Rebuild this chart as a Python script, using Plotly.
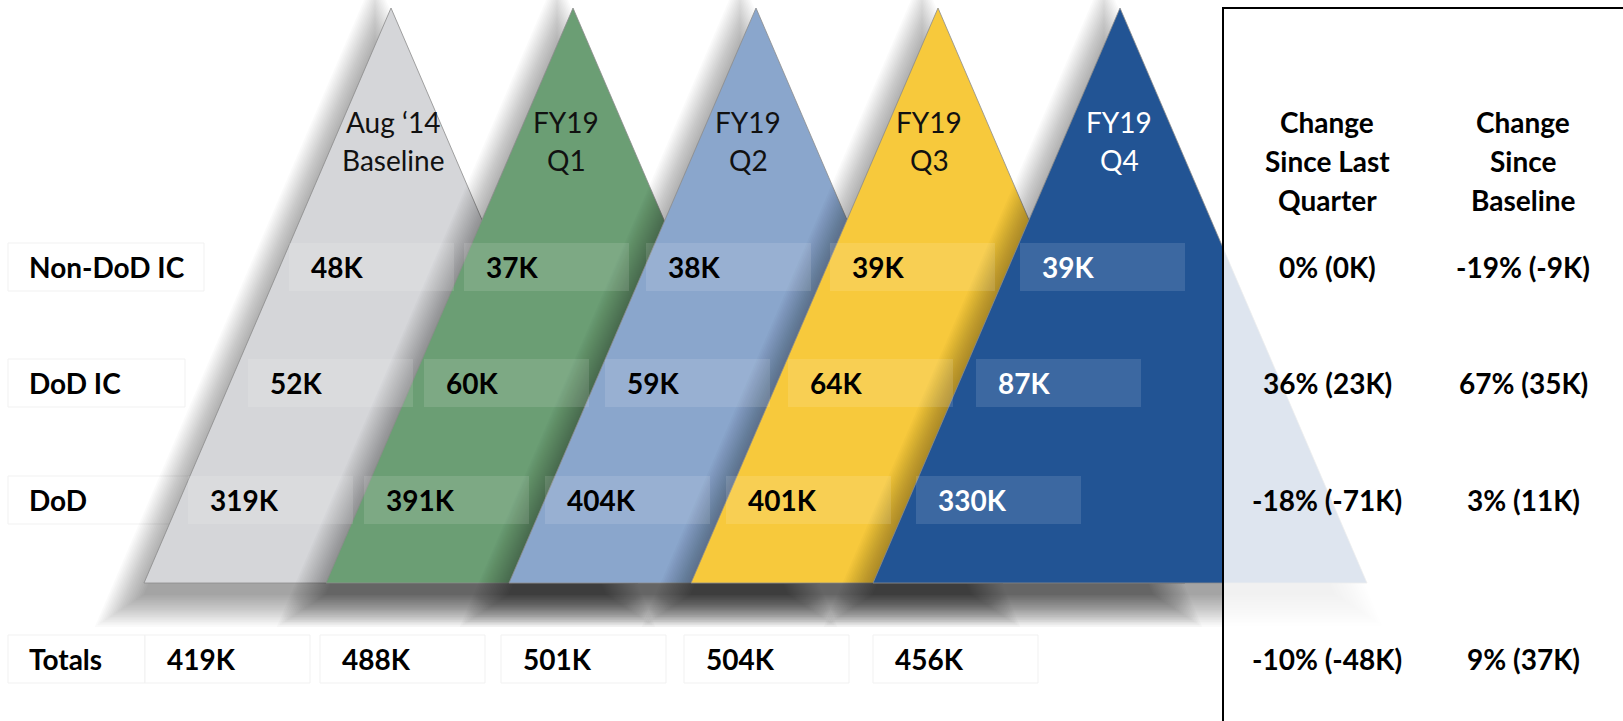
import math
import plotly.graph_objects as go

# ---------------- data ----------------
period_line1 = ["Aug \u201814", "FY19", "FY19", "FY19", "FY19"]
period_line2 = ["Baseline", "Q1", "Q2", "Q3", "Q4"]
row_labels = ["Non-DoD IC", "DoD IC", "DoD", "Totals"]
non_dod_ic = [48, 37, 38, 39, 39]
dod_ic = [52, 60, 59, 64, 87]
dod = [319, 391, 404, 401, 330]
totals = [419, 488, 501, 504, 456]
change_header_last_quarter = ["Change", "Since Last", "Quarter"]
change_header_baseline = ["Change", "Since", "Baseline"]
change_last_quarter = ["0% (0K)", "36% (23K)", "-18% (-71K)", "-10% (-48K)"]
change_baseline = ["-19% (-9K)", "67% (35K)", "3% (11K)", "9% (37K)"]

# ---------------- styles / layout ----------------
W, H = 1623, 721
tri_colors = ["#d5d6d9", "#6b9e74", "#8aa6cc", "#f7c93c", "#225494"]
header_colors = ["#111111", "#111111", "#111111", "#111111", "#ffffff"]
value_colors = ["#000000", "#000000", "#000000", "#000000", "#ffffff"]
FONT = "Lato"
FS = 28

APEX_X = [391, 573, 756, 938, 1120]
APEX_Y, BASE_Y, HALF = 8, 583, 247
TAN = HALF / (BASE_Y - APEX_Y)
SIN = math.sin(math.atan(TAN))

ROW_Y = [267, 383, 500, 659]
TEXT_X = [
    [309, 484, 666, 850, 1040],
    [268, 444, 625, 808, 996],
    [208, 384, 565, 746, 936],
    [165, 340, 521, 704, 893],
]
BOX_W, BOX_H, BOX_PAD = 165, 48, 20
LABEL_X = 27
LABEL_BOX_R = [204, 185, 207, 145]
HEADER_X = [393, 566, 748, 929, 1119]
HEADER_Y = [122, 160]
PANEL_X, PANEL_Y = 1223, 8
CHG_X = [1327, 1523]
CHG_HEAD_Y = [122, 161, 200]

SH_DX, SH_DY = -16, 22
SH_N = 20
SH_R = [-10 + 32 * k / (SH_N - 1) for k in range(SH_N)]
SH_A = 0.02


def tri_path(ax, r=0.0, dx=0.0, dy=0.0):
    top = APEX_Y - r / SIN + dy
    bot = BASE_Y + r + dy
    hw = (bot - top) * TAN
    x = ax + dx
    return f"M {x:.1f},{top:.1f} L {x + hw:.1f},{bot:.1f} L {x - hw:.1f},{bot:.1f} Z"


fig = go.Figure()
fig.add_trace(go.Scatter(x=[0, W], y=[0, H], mode="markers",
                         marker=dict(opacity=0), hoverinfo="skip", showlegend=False))

shapes = []
series = [non_dod_ic, dod_ic, dod, totals]

# row label boxes (behind the triangles)
for r_i, ry in enumerate(ROW_Y):
    shapes.append(dict(type="rect", xref="x", yref="y", layer="above",
                       x0=8, x1=LABEL_BOX_R[r_i], y0=ry - BOX_H / 2, y1=ry + BOX_H / 2,
                       fillcolor="#ffffff", line=dict(color="#f1f1f1", width=1)))

# triangles with soft drop shadows
for i, ax in enumerate(APEX_X):
    for r in SH_R:
        shapes.append(dict(type="path", xref="x", yref="y", layer="above",
                           path=tri_path(ax, r, SH_DX, SH_DY),
                           fillcolor=f"rgba(0,0,0,{SH_A})", line=dict(width=0)))
    shapes.append(dict(type="path", xref="x", yref="y", layer="above",
                       path=tri_path(ax), fillcolor=tri_colors[i],
                       line=dict(color="rgba(140,140,140,0.8)", width=1)))

# value boxes
for r_i, ry in enumerate(ROW_Y):
    for c_i, tx in enumerate(TEXT_X[r_i]):
        if r_i < 3:
            fc, lc = "rgba(255,255,255,0.12)", "rgba(255,255,255,0)"
        else:
            fc, lc = "rgba(255,255,255,1)", "#f1f1f1"
        shapes.append(dict(type="rect", xref="x", yref="y", layer="above",
                           x0=tx - BOX_PAD, x1=tx - BOX_PAD + BOX_W,
                           y0=ry - BOX_H / 2, y1=ry + BOX_H / 2,
                           fillcolor=fc, line=dict(color=lc, width=1)))

# right panel
shapes.append(dict(type="rect", xref="x", yref="y", layer="above",
                   x0=PANEL_X, x1=W + 40, y0=PANEL_Y, y1=H + 40,
                   fillcolor="rgba(255,255,255,0.85)", line=dict(color="#000000", width=2)))


def txt(x, y, s, color="#000000", bold=True, anchor="left", size=FS):
    fig.add_annotation(x=x, y=y, xref="x", yref="y",
                       text=f"<b>{s}</b>" if bold else s,
                       showarrow=False, xanchor=anchor, yanchor="middle",
                       font=dict(family=FONT, size=size, color=color))


# period headers
for c_i, hx in enumerate(HEADER_X):
    txt(hx, HEADER_Y[0], period_line1[c_i], color=header_colors[c_i], bold=False, anchor="center")
    txt(hx, HEADER_Y[1], period_line2[c_i], color=header_colors[c_i], bold=False, anchor="center")

# row labels and values
for r_i, ry in enumerate(ROW_Y):
    txt(LABEL_X, ry, row_labels[r_i])
    for c_i, v in enumerate(series[r_i]):
        col = value_colors[c_i] if r_i < 3 else "#000000"
        txt(TEXT_X[r_i][c_i], ry, f"{v}K", color=col)

# change columns
for k, hy in enumerate(CHG_HEAD_Y):
    txt(CHG_X[0], hy, change_header_last_quarter[k], anchor="center")
    txt(CHG_X[1], hy, change_header_baseline[k], anchor="center")
for r_i, ry in enumerate(ROW_Y):
    txt(CHG_X[0], ry, change_last_quarter[r_i], anchor="center")
    txt(CHG_X[1], ry, change_baseline[r_i], anchor="center")

fig.update_layout(
    width=W, height=H, shapes=shapes,
    margin=dict(l=0, r=0, t=0, b=0),
    paper_bgcolor="#ffffff", plot_bgcolor="#ffffff",
    xaxis=dict(range=[0, W], visible=False, fixedrange=True),
    yaxis=dict(range=[H, 0], visible=False, fixedrange=True),
    showlegend=False,
)
fig.write_html("out.html", config={"displayModeBar": False},
               post_script="document.body.style.margin='0';document.body.style.overflow='hidden';")
